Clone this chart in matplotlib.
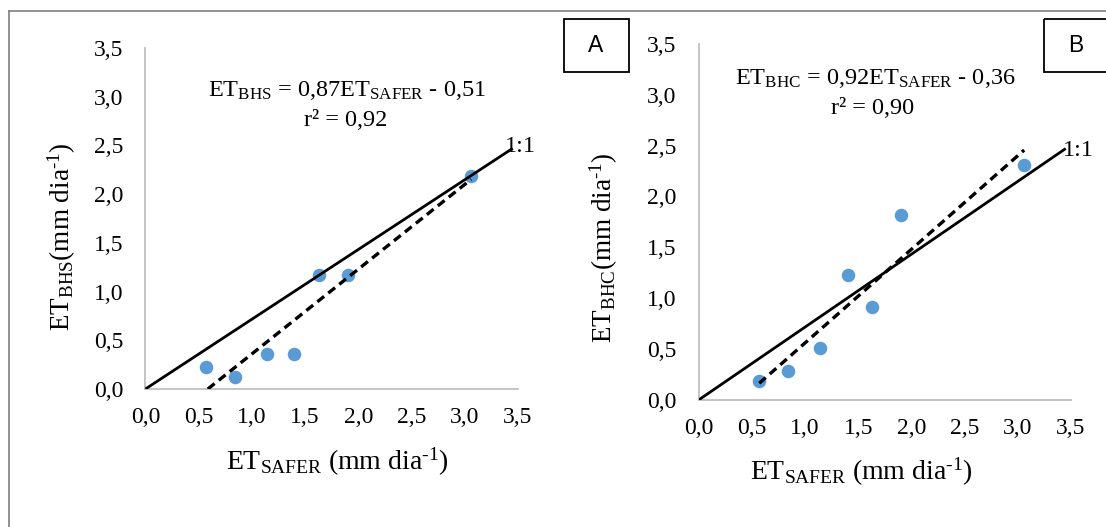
import matplotlib
matplotlib.use("Agg")
import matplotlib.pyplot as plt
from matplotlib.patches import Rectangle
import numpy as np

# ---------------- data ----------------
et_safer = [0.57, 0.84, 1.14, 1.40, 1.63, 1.90, 3.06]
et_bhs = [0.23, 0.12, 0.36, 0.36, 1.17, 1.17, 2.19]
et_bhc = [0.19, 0.28, 0.51, 1.23, 0.91, 1.82, 2.31]
fit_a = (0.87, -0.51)
fit_b = (0.92, -0.36)
ref_x = [0.0, 3.45]
ref_y = [0.0, 2.47]
ticks = [0.0, 0.5, 1.0, 1.5, 2.0, 2.5, 3.0, 3.5]
tick_labels = ["0,0", "0,5", "1,0", "1,5", "2,0", "2,5", "3,0", "3,5"]

plt.rcParams['font.family'] = ['Liberation Serif', 'DejaVu Serif']
plt.rcParams['mathtext.fontset'] = 'custom'
plt.rcParams['mathtext.rm'] = 'Liberation Serif'
plt.rcParams['mathtext.it'] = 'Liberation Serif:italic'
plt.rcParams['mathtext.bf'] = 'Liberation Serif:bold'

W, H = 1106, 527
fig = plt.figure(figsize=(W / 100, H / 100), dpi=100)
fig.patch.set_facecolor('white')


def px_axes(x0, x1, y_top, y_bot):
    return fig.add_axes([x0 / W, 1 - y_bot / H, (x1 - x0) / W, (y_bot - y_top) / H])


def style(ax):
    ax.set_xlim(0, 3.5)
    ax.set_ylim(0, 3.5)
    for s in ['top', 'right']:
        ax.spines[s].set_visible(False)
    for s in ['left', 'bottom']:
        ax.spines[s].set_color('#BFBFBF')
        ax.spines[s].set_linewidth(1.3)
    ax.set_xticks(ticks)
    ax.set_xticklabels(tick_labels)
    ax.set_yticks(ticks)
    ax.set_yticklabels(tick_labels)
    ax.tick_params(axis='both', length=0, labelsize=17)
    ax.tick_params(axis='x', pad=13)
    ax.tick_params(axis='y', pad=16)
    ax.patch.set_alpha(0)


def panel(ax, y, fit):
    a, b = fit
    ax.scatter(et_safer, y, s=95, color='#5B9BD5', zorder=2, linewidths=0, clip_on=False)
    ax.plot(ref_x, ref_y, color='black', lw=2.0, zorder=3, solid_capstyle='butt')
    xs = np.array([max(min(et_safer), -b / a), max(et_safer)])
    ax.plot(xs, a * xs + b, color='black', lw=2.4, ls=(0, (2.6, 1.6)), zorder=3)
    style(ax)


axA = px_axes(145.4, 518, 48, 389)
panel(axA, et_bhs, fit_a)
axB = px_axes(698.6, 1071, 43.7, 400)
panel(axB, et_bhc, fit_b)

# overlay in pixel coordinates
ov = fig.add_axes([0, 0, 1, 1])
ov.set_xlim(0, W)
ov.set_ylim(H, 0)
ov.axis('off')
ov.patch.set_alpha(0)

# outer frame
ov.plot([9, W + 5], [11, 11], color='#7F7F7F', lw=1.2, clip_on=False)
ov.plot([9, 9], [11, H + 5], color='#7F7F7F', lw=1.2, clip_on=False)

# panel letter boxes
ov.add_patch(Rectangle((564, 19), 65, 53, fill=False, ec='black', lw=1.3))
ov.add_patch(Rectangle((1044, 19), 70, 53, fill=False, ec='black', lw=1.3, clip_on=False))
ov.text(596, 46, 'A', family=['Liberation Sans'], fontsize=16.5, ha='center', va='center')
ov.text(1076, 46, 'B', family=['Liberation Sans'], fontsize=16.5, ha='center', va='center')

# equations
eq_fs = 17.5
ov.text(347, 91, r'ET$_{\mathrm{BHS}}$ = 0,87ET$_{\mathrm{SAFER}}$ - 0,51', fontsize=eq_fs,
        ha='center', va='center')
ov.text(346, 120, 'r² = 0,92', fontsize=eq_fs, ha='center', va='center')
ov.text(875, 79, r'ET$_{\mathrm{BHC}}$ = 0,92ET$_{\mathrm{SAFER}}$ - 0,36', fontsize=eq_fs,
        ha='center', va='center')
ov.text(873, 108, 'r² = 0,90', fontsize=eq_fs, ha='center', va='center')

# 1:1 labels
ov.text(505, 147, '1:1', fontsize=eq_fs, ha='left', va='center')
ov.text(1063, 151, '1:1', fontsize=eq_fs, ha='left', va='center')

# axis labels
lab_x = 'ET$_{\\mathrm{SAFER}}$ (mm dia$^{\\mathrm{\u20101}}$)'
ov.text(337, 462, lab_x, fontsize=20, ha='center', va='center')
ov.text(861, 472, lab_x, fontsize=20, ha='center', va='center')
ov.text(62, 237, 'ET$_{\\mathrm{BHS}}$(mm dia$^{\\mathrm{\u20101}}$)', fontsize=19.5,
        ha='center', va='center', rotation=90)
ov.text(604, 248, 'ET$_{\\mathrm{BHC}}$(mm dia$^{\\mathrm{\u20101}}$)', fontsize=19.5,
        ha='center', va='center', rotation=90)

fig.savefig('out.png', dpi=100)
